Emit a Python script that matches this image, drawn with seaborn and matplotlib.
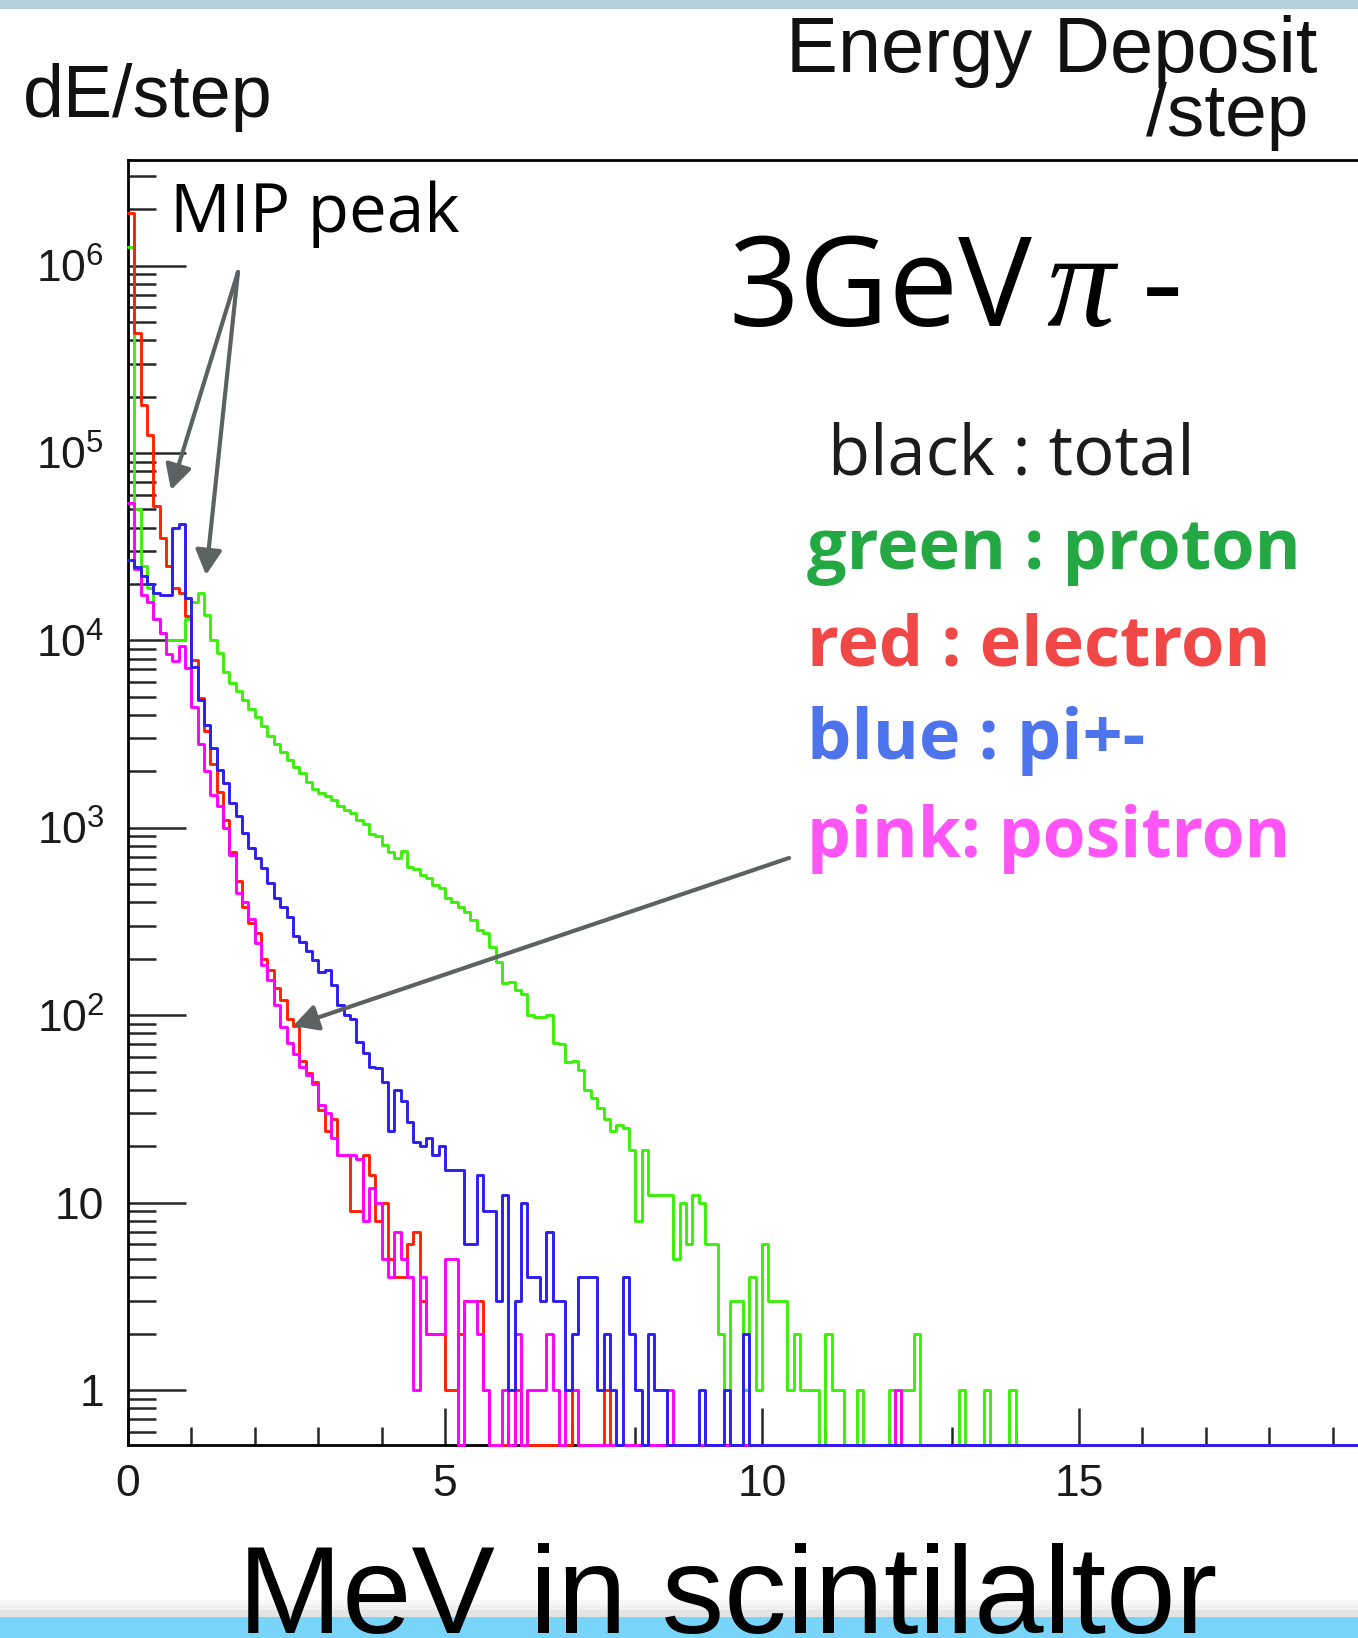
import numpy as np
import pandas as pd
import matplotlib
matplotlib.use("Agg")
import matplotlib.pyplot as plt
import seaborn as sns
from matplotlib.ticker import FixedLocator, FixedFormatter, LogLocator, NullFormatter, MultipleLocator
from matplotlib.patches import Rectangle

# ---------------- data (counts per 0.1 MeV bin, starting at 0 MeV) ----------------
bin_width = 0.1
n_bins = 200
x_max = 20.0

proton = [1250000, 50000, 25000, 19000, 13000, 11000, 10000, 10000, 10000, 13000,
          16000, 18000, 13600, 10000, 8600, 6800, 5900, 5400, 4800, 4300,
          3900, 3500, 3100, 2800, 2550, 2300, 2100, 1950, 1760, 1620,
          1530, 1470, 1400, 1300, 1250, 1195, 1100, 1050, 930, 900,
          810, 740, 690, 750, 620, 600, 560, 540, 495, 475,
          420, 404, 380, 357, 322, 285, 274, 232, 193, 148,
          151, 136, 130, 100, 98, 98, 100, 71, 70, 56,
          57, 51, 40, 36, 32, 28, 24, 26, 25, 19,
          8, 19, 11, 11, 11, 11, 5, 10, 6, 11,
          10, 6, 6, 2, 1, 3, 3, 1, 4, 1,
          6, 3, 3, 3, 1, 2, 1, 1, 1, 0,
          2, 1, 1, 0, 0, 1, 0, 0, 0, 0,
          1, 0, 1, 1, 2, 0, 0, 0, 0, 0,
          0, 1, 0, 0, 0, 1, 0, 0, 0, 1]

electron = [1900000, 435000, 180000, 125000, 52000, 35000, 25000, 19000, 18000, 13500,
            7900, 4900, 3300, 2200, 1560, 1100, 745, 520, 380, 310,
            273, 200, 175, 139, 120, 96, 88, 57, 49, 44,
            31, 24, 28, 18, 18, 9, 9, 18, 14, 8,
            10, 5, 4, 4, 6, 7, 3, 2, 2, 2,
            1, 1, 2, 3, 3, 3, 1, 0, 0, 0,
            0, 1, 0, 0, 0, 0, 0, 0, 0, 0,
            1, 0, 0, 0, 0, 1]

pion = [27000, 24500, 22000, 20000, 18000, 17400, 17400, 40000, 42000, 16800,
        7200, 4800, 3550, 2650, 2030, 1730, 1350, 1150, 940, 780,
        690, 610, 505, 420, 380, 336, 263, 245, 219, 197,
        170, 174, 145, 113, 100, 96, 72, 63, 53, 52,
        44, 24, 40, 35, 27, 21, 20, 22, 18, 20,
        15, 15, 15, 6, 6, 14, 9, 9, 3, 11,
        1, 3, 10, 4, 4, 3, 7, 3, 3, 1,
        2, 4, 4, 4, 1, 2, 1, 0, 4, 2,
        1, 0, 2, 1, 1, 0, 0, 0, 0, 0,
        1, 0, 0, 0, 1, 0, 0, 2]

positron = [54000, 24000, 17500, 16000, 13000, 11000, 8500, 7800, 9300, 7100,
            4400, 2800, 2000, 1500, 1300, 1000, 716, 450, 400, 325,
            242, 186, 155, 114, 87, 71, 62, 53, 48, 43,
            33, 30, 22, 18, 18, 18, 17, 8, 12, 10,
            5, 4, 7, 5, 4, 1, 4, 2, 2, 2,
            5, 5, 0, 3, 3, 2, 1, 0, 0, 1,
            0, 2, 0, 1, 1, 1, 2, 1, 0, 1,
            1, 0, 0, 0, 0, 0, 0, 0, 0, 0,
            0, 0, 0, 0, 0, 1, 0, 0, 0, 0,
            0, 0, 0, 0, 0, 0, 0, 0, 0, 0,
            0, 0, 0, 0, 0, 0, 0, 0, 0, 0,
            0, 0, 0, 0, 0, 0, 0, 0, 0, 0,
            0, 1]

y_major_ticks = [1, 10, 1e2, 1e3, 1e4, 1e5, 1e6]
y_major_labels = ["1", "10", r"$10^{2}$", r"$10^{3}$", r"$10^{4}$", r"$10^{5}$", r"$10^{6}$"]
x_major_ticks = [0, 5, 10, 15, 20]
x_major_labels = ["0", "5", "10", "15", ""]   # the "20" label falls outside the slide

legend_lines = [("black : total", "#1c1c1c", "normal"),
                ("green : proton", "#23a843", "bold"),
                ("red : electron", "#f04747", "bold"),
                ("blue : pi+-", "#4d74ec", "bold"),
                ("pink: positron", "#ff55f7", "bold")]

# ---------------- figure ----------------
W, H, DPI = 1358, 1638, 100
sns.set_style("ticks")
plt.rcParams["font.family"] = ["Liberation Sans", "DejaVu Sans"]
plt.rcParams["mathtext.fontset"] = "custom"
plt.rcParams["mathtext.rm"] = "Liberation Sans"
plt.rcParams["mathtext.it"] = "Liberation Sans:italic"
plt.rcParams["mathtext.default"] = "regular"

fig = plt.figure(figsize=(W / DPI, H / DPI), dpi=DPI, facecolor="white")
ax = fig.add_axes([128 / W, 1 - 1445 / H, 1268 / W, 1285 / H])
ax.set_facecolor("white")

edges = np.linspace(0.0, x_max, n_bins + 1)
centers = 0.5 * (edges[:-1] + edges[1:])
y_min, y_max = 0.5086, 3.66e6


def padded(vals):
    v = np.zeros(n_bins)
    v[:len(vals)] = vals
    return v


series = [(proton, "#3cf00a"), (electron, "#ff2200"), (positron, "#ff00ff"), (pion, "#2b1ff0")]
for vals, col in series:
    v = padded(vals)
    v = np.where(v > 0, v, y_min)  # empty bins drawn on the floor, as ROOT does
    df = pd.DataFrame({"dE": centers, "count": v})
    sns.histplot(data=df, x="dE", weights="count", bins=edges.tolist(), element="step", fill=False,
                 color=col, linewidth=2.1, ax=ax)

for ln in ax.lines:
    ln.set_zorder(3)
    ln.set_clip_on(False)

ax.set_yscale("log")
ax.set_xlim(0, x_max)
ax.set_ylim(y_min, y_max)
ax.set_xlabel("")
ax.set_ylabel("")

for s in ["left", "top", "bottom", "right"]:
    ax.spines[s].set_color("black")
    ax.spines[s].set_linewidth(2.0)
    ax.spines[s].set_visible(True)

ax.yaxis.set_major_locator(FixedLocator(y_major_ticks))
ax.yaxis.set_major_formatter(FixedFormatter(y_major_labels))
ax.yaxis.set_minor_locator(LogLocator(base=10, subs=np.arange(2, 10)))
ax.yaxis.set_minor_formatter(NullFormatter())
ax.xaxis.set_major_locator(FixedLocator(x_major_ticks))
ax.xaxis.set_major_formatter(FixedFormatter(x_major_labels))
ax.xaxis.set_minor_locator(MultipleLocator(1))

ax.tick_params(axis="y", which="major", direction="in", length=42, width=1.8,
               pad=17, labelsize=32, labelcolor="#1a1a1a", left=True, right=False)
ax.tick_params(axis="y", which="minor", direction="in", length=20, width=1.8, left=True, right=False)
ax.tick_params(axis="x", which="major", direction="in", length=27, width=1.8,
               pad=14, labelsize=32, labelcolor="#1a1a1a", bottom=True, top=False)
ax.tick_params(axis="x", which="minor", direction="in", length=13, width=1.8, bottom=True, top=False)
for lab in ax.get_xticklabels() + ax.get_yticklabels():
    lab.set_family(["Liberation Sans", "DejaVu Sans"])


def fx(px):
    return px / W


def fy(py):
    return 1 - py / H


# slide decorations
fig.add_artist(Rectangle((0, fy(9)), 1, 9 / H, transform=fig.transFigure,
                         facecolor="#b5d1dc", edgecolor="none", zorder=0))
for y0, y1, c in [(1600, 1605, "#f8f8f8"), (1605, 1610, "#f0f0f0"), (1610, 1617, "#e4e4e4")]:
    fig.add_artist(Rectangle((0, fy(y1)), 1, (y1 - y0) / H, transform=fig.transFigure,
                             facecolor=c, edgecolor="none", zorder=0))
fig.add_artist(Rectangle((0, 0), 1, 21 / H, transform=fig.transFigure,
                         facecolor="#79d4f9", edgecolor="none", zorder=0))

helv = ["Liberation Sans", "DejaVu Sans"]
hira = ["Open Sans", "Noto Sans", "DejaVu Sans"]

fig.text(fx(23), fy(117), "dE/step", fontsize=53, family=helv, color="#111111", va="baseline", ha="left")
fig.text(fx(1318), fy(72), "Energy Deposit", fontsize=56, family=helv, color="#111111", va="baseline", ha="right")
fig.text(fx(1308), fy(136), "/step", fontsize=54, family=helv, color="#111111", va="baseline", ha="right")
fig.text(fx(238), fy(1633), "MeV in scintilaltor", fontsize=90, family=helv, color="black",
         va="baseline", ha="left", zorder=5)

fig.text(fx(170), fy(232), "MIP peak", fontsize=48.5, family=hira, color="black", va="baseline", ha="left")
fig.text(fx(728), fy(326), "3GeV", fontsize=89, family=hira, color="black", va="baseline", ha="left")
fig.text(fx(1046), fy(326), "π", fontsize=98, family=["Liberation Serif", "DejaVu Serif"], style="italic",
         color="black", va="baseline", ha="left")
fig.text(fx(1142), fy(326), "-", fontsize=92, family=hira, color="black", va="baseline", ha="left")

legend_pos = [(828, 474), (807, 569), (807, 665), (807, 759), (807, 857)]
legend_sizes = [49.5, 50.5, 50.5, 50.5, 50]
for (txt, col, wt), (px, py), fs in zip(legend_lines, legend_pos, legend_sizes):
    fig.text(fx(px), fy(py), txt, fontsize=fs, family=hira,
             weight=wt, color=col, va="baseline", ha="left")

arrow_kw = dict(arrowstyle="-|>,head_length=0.75,head_width=0.4", mutation_scale=20,
                lw=3.0, color="#5c6161", shrinkA=0, shrinkB=0)
for (x0, y0), (x1, y1) in [((238, 272), (171, 490)), ((238, 272), (206, 575)), ((789, 858), (293, 1026))]:
    ax.annotate("", xy=(x1, H - y1), xycoords="figure pixels",
                xytext=(x0, H - y0), textcoords="figure pixels",
                arrowprops=arrow_kw, annotation_clip=False)

fig.savefig("out.png", dpi=DPI, facecolor="white")
